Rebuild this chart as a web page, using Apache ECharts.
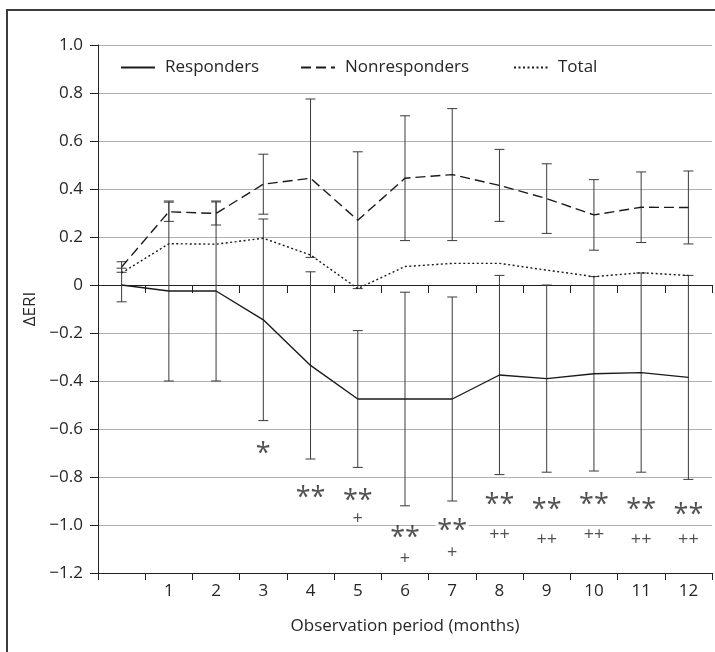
<!DOCTYPE html>
<html>
<head>
<meta charset="utf-8">
<style>
  html, body { margin: 0; padding: 0; background: #fff; }
  #chart { width: 715px; height: 652px; }
</style>
<script src="https://cdn.jsdelivr.net/npm/echarts@6/dist/echarts.min.js"></script>
</head>
<body>
<div id="chart"></div>
<script>
// months, first slot is the baseline (no label)
const months = ['', '1', '2', '3', '4', '5', '6', '7', '8', '9', '10', '11', '12']
const yTickLabels = ['\u22121.2', '\u22121.0', '\u22120.8', '\u22120.6', '\u22120.4', '\u22120.2', '0', '0.2', '0.4', '0.6', '0.8', '1.0']

const respMean = [0, -0.025, -0.025, -0.145, -0.335, -0.475, -0.475, -0.475, -0.375, -0.39, -0.37, -0.365, -0.385]
const respErr = [0.07, 0.375, 0.375, 0.42, 0.39, 0.285, 0.445, 0.425, 0.415, 0.39, 0.405, 0.415, 0.425]
const nonMean = [0.075, 0.305, 0.298, 0.42, 0.445, 0.27, 0.445, 0.46, 0.415, 0.36, 0.292, 0.324, 0.323]
const nonErr = [0.022, 0.04, 0.048, 0.125, 0.33, 0.285, 0.26, 0.275, 0.15, 0.145, 0.147, 0.147, 0.152]
const totalMean = [0.05, 0.172, 0.17, 0.195, 0.125, -0.015, 0.077, 0.09, 0.09, 0.062, 0.035, 0.051, 0.04]

// significance marks under the responder bars
const starText = ['', '', '', '*', '**', '**', '**', '**', '**', '**', '**', '**', '**']
const starY = [null, null, null, -0.68, -0.865, -0.875, -1.03, -1.0, -0.895, -0.915, -0.895, -0.915, -0.935]
const plusText = ['', '', '', '', '', '+', '+', '+', '++', '++', '++', '++', '++']
const plusY = [null, null, null, null, null, -0.975, -1.14, -1.115, -1.04, -1.06, -1.04, -1.06, -1.06]

const font = '"Open Sans", "Noto Sans", sans-serif'
const textColor = '#262626'

function errorBars(mean, err) {
  return mean.map((m, i) => [i, m - err[i], m + err[i]])
}

function renderErrorBar(params, api) {
  const x = api.value(0)
  const lo = api.coord([x, api.value(1)])
  const hi = api.coord([x, api.value(2)])
  const half = 5
  const style = { stroke: '#3a3a3a', lineWidth: 1 }
  return {
    type: 'group',
    children: [
      { type: 'line', shape: { x1: hi[0], y1: hi[1], x2: lo[0], y2: lo[1] }, style },
      { type: 'line', shape: { x1: hi[0] - half, y1: hi[1], x2: hi[0] + half, y2: hi[1] }, style },
      { type: 'line', shape: { x1: lo[0] - half, y1: lo[1], x2: lo[0] + half, y2: lo[1] }, style }
    ]
  }
}

function markSeries(ys, texts, size, dy) {
  return {
    type: 'scatter',
    symbolSize: 0,
    silent: true,
    data: ys.map((y, i) => (y === null ? null : [i, y, texts[i]])),
    label: {
      show: true,
      position: 'inside',
      offset: [0, dy],
      formatter: p => p.data[2],
      color: textColor,
      fontFamily: font,
      fontSize: size,
      lineHeight: size * 0.6,
      backgroundColor: '#fff',
      padding: [0, 2]
    },
    z: 5
  }
}

const chart = echarts.init(document.getElementById('chart'))

const legendBase = {
  top: 59,
  padding: 0,
  itemWidth: 34,
  itemHeight: 14,
  itemStyle: { opacity: 0, borderWidth: 0 },
  textStyle: { fontFamily: font, fontSize: 17, color: textColor, padding: [0, 0, 0, 5] },
  selectedMode: false
}

chart.setOption({
  backgroundColor: '#fff',
  animation: false,
  graphic: [{
    type: 'rect',
    shape: { x: 7, y: 10, width: 900, height: 900 },
    style: { fill: 'none', stroke: '#3c3c3c', lineWidth: 2 },
    silent: true
  }],
  legend: [
    { ...legendBase, left: 120, data: ['Responders'] },
    { ...legendBase, left: 300, data: ['Nonresponders'] },
    { ...legendBase, left: 513, data: ['Total'] }
  ],
  grid: { left: 98, right: 3, top: 45, bottom: 79 },
  xAxis: [
    {
      type: 'category',
      data: months,
      boundaryGap: true,
      axisLine: { onZero: true, lineStyle: { color: '#222', width: 1 } },
      axisTick: { show: true, length: 8, lineStyle: { color: '#222' } },
      axisLabel: { show: false },
      splitLine: { show: false }
    },
    {
      type: 'category',
      data: months,
      position: 'bottom',
      boundaryGap: true,
      axisLine: { onZero: false, lineStyle: { color: '#222', width: 1 } },
      axisTick: { show: true, length: 7, lineStyle: { color: '#222' } },
      axisLabel: { color: textColor, fontFamily: font, fontSize: 17, margin: 10 },
      name: 'Observation period (months)',
      nameLocation: 'middle',
      nameGap: 45,
      nameTextStyle: { color: textColor, fontFamily: font, fontSize: 17 }
    }
  ],
  yAxis: {
    type: 'value',
    min: -1.2,
    max: 1.0,
    interval: 0.2,
    axisLine: { show: true, lineStyle: { color: '#222', width: 1 } },
    axisTick: { show: true, length: 8, lineStyle: { color: '#222' } },
    axisLabel: {
      color: textColor,
      fontFamily: font,
      fontSize: 17,
      margin: 15,
      formatter: (v, i) => yTickLabels[i]
    },
    splitLine: { show: true, lineStyle: { color: '#b0b0b0', width: 1 } },
    name: '\u0394ERI',
    nameLocation: 'middle',
    nameGap: 58,
    nameTextStyle: { color: textColor, fontFamily: font, fontSize: 17 }
  },
  series: [
    {
      type: 'custom',
      renderItem: renderErrorBar,
      data: errorBars(respMean, respErr),
      encode: { x: 0, y: [1, 2] },
      silent: true,
      z: 1
    },
    {
      type: 'custom',
      renderItem: renderErrorBar,
      data: errorBars(nonMean, nonErr),
      encode: { x: 0, y: [1, 2] },
      silent: true,
      z: 1
    },
    {
      name: 'Responders',
      type: 'line',
      data: respMean,
      symbol: 'none',
      lineStyle: { color: '#1a1a1a', width: 1.4, type: 'solid' },
      itemStyle: { color: '#1a1a1a' },
      z: 3
    },
    {
      name: 'Nonresponders',
      type: 'line',
      data: nonMean,
      symbol: 'none',
      lineStyle: { color: '#1a1a1a', width: 1.4, type: [10, 5] },
      itemStyle: { color: '#1a1a1a' },
      z: 3
    },
    {
      name: 'Total',
      type: 'line',
      data: totalMean,
      symbol: 'none',
      lineStyle: { color: '#1a1a1a', width: 1.4, type: [2, 2.5] },
      itemStyle: { color: '#1a1a1a' },
      z: 3
    },
    markSeries(starY, starText, 27, 6),
    markSeries(plusY, plusText, 18, 0)
  ]
})
</script>
</body>
</html>
